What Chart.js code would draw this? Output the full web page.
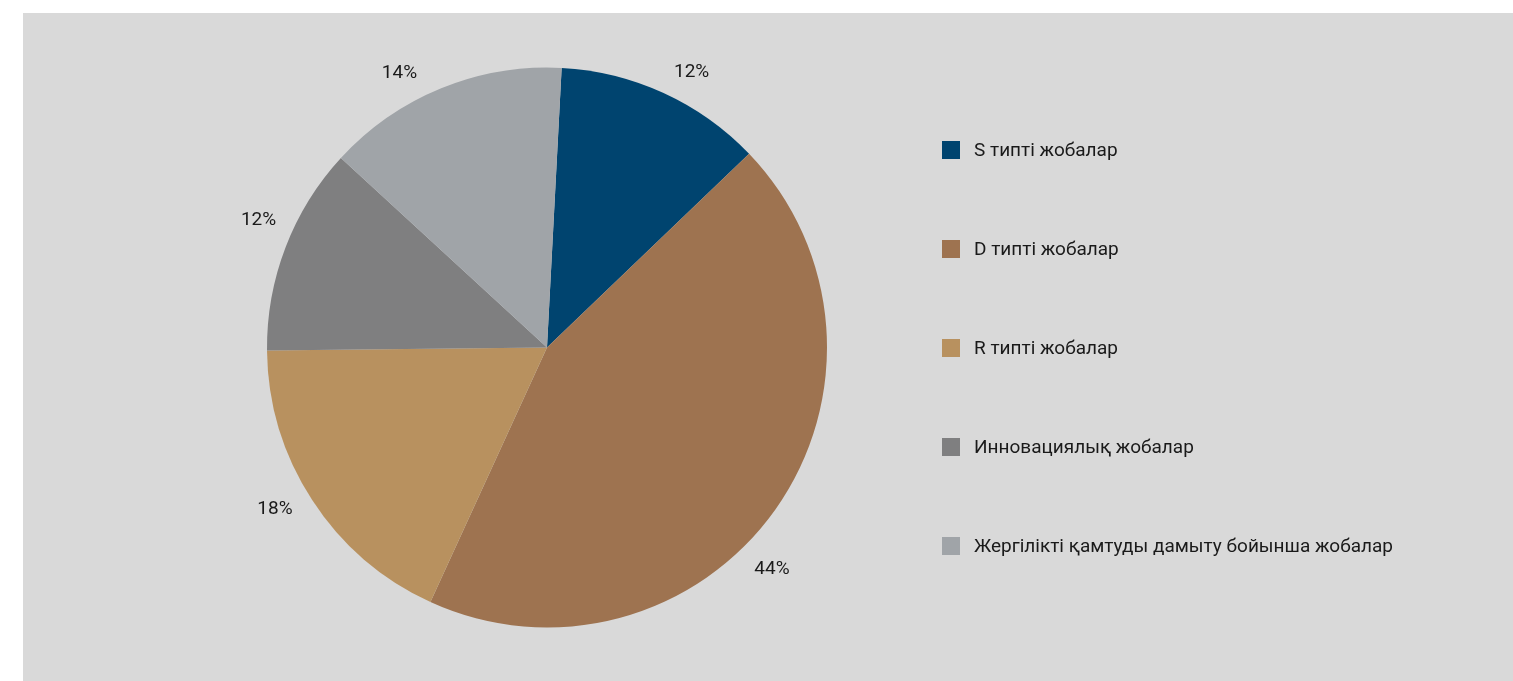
<!DOCTYPE html>
<html>
<head>
<meta charset="utf-8">
<script src="https://cdn.jsdelivr.net/npm/chart.js@4/dist/chart.umd.min.js"></script>
<style>
  html, body { margin: 0; padding: 0; background: #ffffff; }
  #wrap { position: absolute; left: 23px; top: 13px; width: 1490px; height: 668px; background: #d9d9d9; }
  canvas { display: block; }
</style>
</head>
<body>
<div id="wrap"><canvas id="c" width="1490" height="668"></canvas></div>
<script>
// Project categories and their shares (%)
const categories = [
  'S типті жобалар',
  'D типті жобалар',
  'R типті жобалар',
  'Инновациялық жобалар',
  'Жергілікті қамтуды дамыту бойынша жобалар'
];
const shares = [12, 44, 18, 12, 14];
const sliceColors = ['#00446f', '#9e7350', '#b8915f', '#7f7f80', '#a0a4a8'];

// small angular nudges (degrees) for the outside value labels
const labelShift = [3, 9, 2.5, 3, -6];

const FONT = '19px Roboto, "Liberation Sans", sans-serif';

const outsideLabels = {
  id: 'outsideLabels',
  afterDatasetsDraw(chart) {
    const ctx = chart.ctx;
    const meta = chart.getDatasetMeta(0);
    ctx.save();
    ctx.font = FONT;
    ctx.fillStyle = '#1a1a1a';
    ctx.textAlign = 'center';
    ctx.textBaseline = 'middle';
    meta.data.forEach((arc, i) => {
      const mid = (arc.startAngle + arc.endAngle) / 2 + labelShift[i] * Math.PI / 180;
      const text = shares[i] + '%';
      const hw = ctx.measureText(text).width / 2;
      const hh = 9;
      const cx = Math.cos(mid), sy = Math.sin(mid);
      const ext = Math.abs(cx) * hw + Math.abs(sy) * hh;
      const r = arc.outerRadius + 16 + ext;
      ctx.fillText(text, arc.x + cx * r, arc.y + sy * r + 1);
    });
    ctx.restore();
  }
};

const sideLegend = {
  id: 'sideLegend',
  afterDraw(chart) {
    const ctx = chart.ctx;
    const x0 = 919, y0 = 137, step = 99, box = 18;
    ctx.save();
    ctx.font = FONT;
    ctx.textBaseline = 'middle';
    ctx.textAlign = 'left';
    categories.forEach((name, i) => {
      const y = y0 + i * step;
      ctx.fillStyle = sliceColors[i];
      ctx.fillRect(x0, y - box / 2, box, box);
      ctx.fillStyle = '#1a1a1a';
      ctx.fillText(name, x0 + 32, y + 1);
    });
    ctx.restore();
  }
};

new Chart(document.getElementById('c'), {
  type: 'pie',
  data: {
    labels: categories,
    datasets: [{
      data: shares,
      backgroundColor: sliceColors,
      borderWidth: 0
    }]
  },
  options: {
    responsive: false,
    animation: false,
    rotation: 3,
    layout: { padding: { left: 244, right: 686, top: 54.5, bottom: 53.5 } },
    plugins: {
      legend: { display: false },
      tooltip: { enabled: false }
    }
  },
  plugins: [outsideLabels, sideLegend]
});
</script>
</body>
</html>
